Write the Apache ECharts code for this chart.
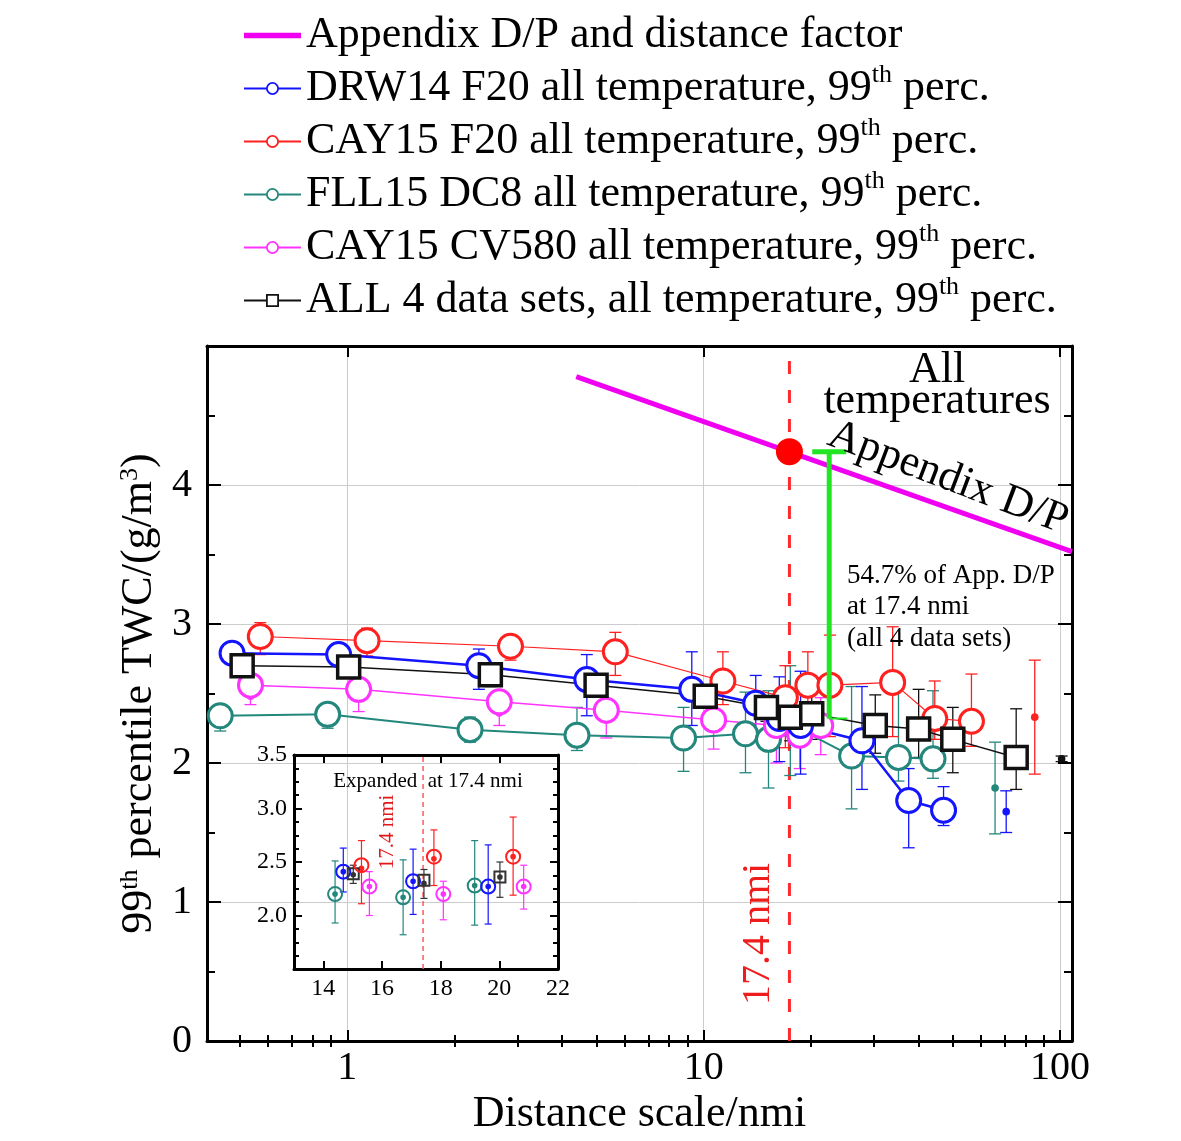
<!DOCTYPE html>
<html><head><meta charset="utf-8">
<script src="https://cdn.jsdelivr.net/npm/echarts@6/dist/echarts.min.js"></script>
<style>html,body{margin:0;padding:0;background:#fff}#c{width:1181px;height:1141px}</style>
</head><body><div id="c"></div>
<script>
const SERIF = '"Liberation Serif", "Times New Roman", serif';

// ---------- names ----------
const nameApp = 'Appendix D/P and distance factor';
const nameDRW = 'DRW14 F20 all temperature, 99th perc.';
const nameCAY = 'CAY15 F20 all temperature, 99th perc.';
const nameFLL = 'FLL15 DC8 all temperature, 99th perc.';
const nameCV = 'CAY15 CV580 all temperature, 99th perc.';
const nameALL = 'ALL 4 data sets, all temperature, 99th perc.';

// ---------- axes ----------
const xMin = 0.404, xMax = 108;
const yMin = 0, yMax = 5;
const minorTicksX = [0.5,0.6,0.7,0.8,0.9,2,3,4,5,6,7,8,9,20,30,40,50,60,70,80,90];
const insetXTicks = [14,16,18,20,22];

// ---------- main data (distance nmi, 99th perc TWC g/m3) ----------
const drwX   = [0.475, 0.946, 2.34, 4.70, 9.26, 14.0, 16.3, 18.7, 27.8, 37.6, 47.1, 70.6];
const drwY   = [2.79, 2.78, 2.70, 2.60, 2.53, 2.43, 2.32, 2.27, 2.16, 1.73, 1.66, null];
const drwDot = [2.77, 2.76, 2.68, 2.57, 2.50, 2.41, 2.32, 2.27, 2.12, 1.74, 1.66, 1.65];
const drwLo  = [2.72, 2.70, 2.53, 2.34, 2.27, 2.22, 2.01, 1.92, 1.81, 1.39, 1.55, 1.50];
const drwHi  = [2.83, 2.83, 2.82, 2.78, 2.80, 2.63, 2.62, 2.66, 2.55, 1.96, 1.83, 1.80];

const cayX   = [0.570, 1.136, 2.87, 5.65, 11.32, 16.95, 19.6, 22.6, 33.9, 44.5, 56.4, 84.9];
const cayY   = [2.91, 2.88, 2.84, 2.80, 2.59, 2.47, 2.56, 2.56, 2.58, 2.32, 2.30, null];
const cayDot = [2.88, 2.86, 2.82, 2.79, 2.57, 2.44, 2.53, 2.56, 2.57, 2.32, 2.30, 2.33];
const cayLo  = [2.78, 2.77, 2.74, 2.63, 2.42, 2.11, 2.28, 2.19, 2.19, 2.17, 2.12, 1.92];
const cayHi  = [3.01, 2.97, 2.92, 2.94, 2.80, 2.70, 2.80, 2.92, 2.98, 2.59, 2.64, 2.74];

const fllX   = [0.440, 0.881, 2.21, 4.41, 8.78, 13.1, 15.2, 17.5, 26.0, 35.2, 44.0, 65.7];
const fllY   = [2.34, 2.35, 2.24, 2.20, 2.18, 2.21, 2.17, 2.28, 2.05, 2.04, 2.03, null];
const fllDot = [2.33, 2.35, 2.24, 2.18, 2.18, 2.22, 2.19, 2.28, 2.05, 2.08, 2.05, 1.82];
const fllLo  = [2.23, 2.25, 2.15, 2.09, 1.94, 1.93, 1.82, 1.91, 1.67, 1.87, 1.89, 1.49];
const fllHi  = [2.41, 2.43, 2.33, 2.40, 2.40, 2.51, 2.52, 2.70, 2.55, 2.53, 2.52, 2.15];

const cvX    = [0.535, 1.076, 2.67, 5.33, 10.66, 16.0, 18.6, 21.3];
const cvY    = [2.56, 2.53, 2.44, 2.38, 2.31, 2.27, 2.20, 2.27];
const cvDot  = [2.48, 2.47, 2.36, 2.31, 2.27, 2.27, 2.20, 2.27];
const cvLo   = [2.42, 2.37, 2.27, 2.18, 2.10, 2.00, 1.96, 2.06];
const cvHi   = [2.61, 2.58, 2.44, 2.44, 2.35, 2.41, 2.32, 2.47];

const allX   = [0.507, 1.009, 2.52, 4.99, 10.1, 15.0, 17.5, 20.1, 30.3, 40.1, 50.0, 75.3, 101];
const allY   = [2.70, 2.69, 2.635, 2.56, 2.48, 2.40, 2.33, 2.355, 2.27, 2.245, 2.17, 2.04, null];
const allDot = [2.66, 2.66, 2.60, 2.53, 2.48, 2.38, 2.33, 2.36, 2.27, 2.25, 2.18, 2.06, 2.03];
const allLo  = [2.62, 2.62, 2.55, 2.48, 2.40, 2.30, 2.16, 2.17, 2.07, 2.04, 1.93, 1.81, 2.01];
const allHi  = [2.75, 2.74, 2.69, 2.62, 2.55, 2.47, 2.43, 2.50, 2.49, 2.53, 2.40, 2.39, 2.05];

// Appendix D/P line end points, reference distance, green bar
const appX = [4.39, 108];
const appY = [4.78, 3.52];
const refDist = 17.4;
const appAtRef = 4.24;
const greenBar = [22.5, 2.32, 4.24]; // x, low, high

// ---------- inset data ----------
const inFllX = [14.40, 16.72, 19.16], inFllY = [2.20, 2.17, 2.28], inFllLo = [1.93, 1.82, 1.91], inFllHi = [2.51, 2.52, 2.70];
const inDrwX = [14.68, 17.06, 19.62], inDrwY = [2.41, 2.32, 2.27], inDrwLo = [2.22, 2.01, 1.92], inDrwHi = [2.63, 2.62, 2.66];
const inAllX = [15.02, 17.43, 20.02], inAllY = [2.39, 2.33, 2.36], inAllDot = [2.38, 2.30, 2.36], inAllLo = [2.30, 2.16, 2.17], inAllHi = [2.47, 2.43, 2.50];
const inCayX = [15.30, 17.77, 20.47], inCayY = [2.47, 2.55, 2.55], inCayDot = [2.44, 2.53, 2.55], inCayLo = [2.11, 2.28, 2.19], inCayHi = [2.70, 2.80, 2.92];
const inCvX  = [15.57, 18.09, 20.83], inCvY = [2.27, 2.20, 2.27], inCvLo = [2.00, 1.96, 2.06], inCvHi = [2.41, 2.32, 2.47];

// ---------- colors ----------
const cBlue = '#1414ff', cRed = '#ff2020', cTeal = '#23877c', cMag = '#ff33ff', cBlack = '#111111', cApp = '#f000f0', cGreen = '#22e622';

// ---------- helpers ----------
function pairs(x, y) { return x.map((v, i) => (y[i] == null ? null : [v, y[i]])).filter(d => d); }
function errRows(x, lo, hi, dot) { return x.map((v, i) => [v, lo[i], hi[i], dot[i]]); }

function errRender(color, cap, lw, dotR) {
  return function (params, api) {
    const x = api.value(0);
    const p0 = api.coord([x, api.value(1)]);
    const p1 = api.coord([x, api.value(2)]);
    const pd = api.coord([x, api.value(3)]);
    const h = cap / 2;
    const st = { stroke: color, lineWidth: lw };
    return { type: 'group', children: [
      { type: 'line', shape: { x1: p0[0], y1: p0[1], x2: p1[0], y2: p1[1] }, style: st },
      { type: 'line', shape: { x1: p1[0] - h, y1: p1[1], x2: p1[0] + h, y2: p1[1] }, style: st },
      { type: 'line', shape: { x1: p0[0] - h, y1: p0[1], x2: p0[0] + h, y2: p0[1] }, style: st },
      { type: 'circle', shape: { cx: pd[0], cy: pd[1], r: dotR }, style: { fill: color } }
    ]};
  };
}

function mainSeries(name, color, lw, symbol, size, bw, x, y, dot, lo, hi) {
  return [
    { type: 'line', name: name, xAxisIndex: 0, yAxisIndex: 0, data: pairs(x, y),
      symbol: symbol, symbolSize: size, showSymbol: true,
      itemStyle: { color: '#fff', borderColor: color, borderWidth: bw, opacity: 1 },
      lineStyle: { color: color, width: lw }, emphasis: { disabled: true }, z: 2 },
    { type: 'custom', name: name + ' err', xAxisIndex: 0, yAxisIndex: 0,
      data: errRows(x, lo, hi, dot), renderItem: errRender(color, 12, 1.3, 3.8),
      encode: { x: 0, y: [1, 2, 3] }, z: 2 }
  ];
}

function insetSeries(name, color, symbol, size, x, y, dot, lo, hi) {
  return [
    { type: 'scatter', name: name + ' inset', xAxisIndex: 4, yAxisIndex: 2, data: pairs(x, y),
      symbol: symbol, symbolSize: size,
      itemStyle: { color: 'rgba(255,255,255,0)', borderColor: color, borderWidth: 2, opacity: 1 }, z: 5 },
    { type: 'custom', name: name + ' inset err', xAxisIndex: 4, yAxisIndex: 2,
      data: errRows(x, lo, hi, dot), renderItem: errRender(color, 7, 1.2, 2.8),
      encode: { x: 0, y: [1, 2, 3] }, z: 5 }
  ];
}

const isPow10 = v => Math.abs(Math.log10(v) - Math.round(Math.log10(v))) < 1e-6;
const frameLine = { show: true, onZero: false, lineStyle: { color: '#000', width: 3 } };
const noLabel = { show: false };

const series = [].concat(
  mainSeries(nameFLL, cTeal, 2, 'circle', 24, 3, fllX, fllY, fllDot, fllLo, fllHi),
  mainSeries(nameCV, cMag, 1.5, 'circle', 24, 3, cvX, cvY, cvDot, cvLo, cvHi),
  mainSeries(nameCAY, cRed, 1.2, 'circle', 24, 3, cayX, cayY, cayDot, cayLo, cayHi),
  mainSeries(nameDRW, cBlue, 2.5, 'circle', 24, 3, drwX, drwY, drwDot, drwLo, drwHi),
  mainSeries(nameALL, cBlack, 1.5, 'rect', 22, 3.5, allX, allY, allDot, allLo, allHi),
  [
    { type: 'line', name: nameApp, xAxisIndex: 0, yAxisIndex: 0, data: pairs(appX, appY),
      symbol: 'none', lineStyle: { color: cApp, width: 5 }, itemStyle: { color: cApp }, z: 3 },
    { type: 'line', name: 'ref line', xAxisIndex: 0, yAxisIndex: 0,
      data: [[refDist, yMin], [refDist, 4.95]], symbol: 'none',
      lineStyle: { color: '#ff2a2a', width: 3, type: [13, 16] }, z: 1 },
    { type: 'scatter', name: 'ref dot', xAxisIndex: 0, yAxisIndex: 0, data: [[refDist, appAtRef]],
      symbol: 'circle', symbolSize: 27, itemStyle: { color: '#ff0000', opacity: 1 }, z: 6 },
    { type: 'custom', name: 'green bar', xAxisIndex: 0, yAxisIndex: 0, data: [greenBar],
      encode: { x: 0, y: [1, 2] }, z: 4,
      renderItem: function (params, api) {
        const x = api.value(0);
        const p0 = api.coord([x, api.value(1)]);
        const p1 = api.coord([x, api.value(2)]);
        return { type: 'group', children: [
          { type: 'line', shape: { x1: p0[0], y1: p0[1], x2: p1[0], y2: p1[1] }, style: { stroke: cGreen, lineWidth: 5 } },
          { type: 'line', shape: { x1: p1[0] - 17, y1: p1[1], x2: p1[0] + 17, y2: p1[1] }, style: { stroke: cGreen, lineWidth: 5 } },
          { type: 'line', shape: { x1: p0[0], y1: p0[1], x2: p0[0] + 18, y2: p0[1] }, style: { stroke: cGreen, lineWidth: 2 } }
        ]};
      } }
  ],
  [
    { type: 'line', name: 'inset ref', xAxisIndex: 4, yAxisIndex: 2,
      data: [[refDist, 1.5], [refDist, 3.5]], symbol: 'none',
      lineStyle: { color: '#ff5a5a', width: 1.5, type: [5, 4] }, z: 4 }
  ],
  insetSeries('fll', cTeal, 'circle', 14, inFllX, inFllY, inFllY, inFllLo, inFllHi),
  insetSeries('drw', cBlue, 'circle', 14, inDrwX, inDrwY, inDrwY, inDrwLo, inDrwHi),
  insetSeries('all', '#333', 'rect', 11, inAllX, inAllY, inAllDot, inAllLo, inAllHi),
  insetSeries('cay', cRed, 'circle', 14, inCayX, inCayY, inCayDot, inCayLo, inCayHi),
  insetSeries('cv', cMag, 'circle', 14, inCvX, inCvY, inCvY, inCvLo, inCvHi)
);

const supRich = { sup: { fontSize: 26, fontFamily: SERIF, color: '#000', verticalAlign: 'top', lineHeight: 34 } };

const option = {
  backgroundColor: '#fff',
  animation: false,
  grid: [
    { left: 207, top: 346, right: 109, bottom: 100, containLabel: false, outerBoundsMode: 'none' },
    { left: 294, top: 755, width: 264, height: 214, containLabel: false, outerBoundsMode: 'none' }
  ],
  legend: {
    orient: 'vertical', left: 243, top: 9, itemGap: 0, itemWidth: 57, itemHeight: 14,
    padding: 0, selectedMode: false,
    itemStyle: { borderWidth: 1.8 },
    data: [
      { name: nameApp, icon: 'path://M0,0L60,0L60,6L0,6Z' },
      nameDRW, nameCAY, nameFLL, nameCV, nameALL
    ],
    formatter: n => n.replace('99th', '99{sup|th}'),
    textStyle: { fontSize: 44, fontFamily: SERIF, color: '#000', lineHeight: 53, rich: supRich }
  },
  xAxis: [
    { gridIndex: 0, type: 'log', min: xMin, max: xMax, position: 'bottom', axisLine: frameLine,
      axisTick: { show: true, inside: true, length: 11, lineStyle: { color: '#000', width: 2 } },
      axisLabel: { show: true, margin: 7, fontSize: 40, fontFamily: SERIF, color: '#000',
        formatter: v => (isPow10(v) ? String(Math.round(v)) : '') },
      splitLine: { show: true, lineStyle: { color: '#cccccc', width: 1 } },
      name: 'Distance scale/nmi', nameLocation: 'middle', nameGap: 47,
      nameTextStyle: { fontSize: 44, fontFamily: SERIF, color: '#000' } },
    { gridIndex: 0, type: 'log', min: xMin, max: xMax, position: 'bottom', axisLine: { show: false },
      axisTick: { show: true, inside: true, length: 6, customValues: minorTicksX, lineStyle: { color: '#000', width: 2 } },
      axisLabel: noLabel, splitLine: { show: false } },
    { gridIndex: 0, type: 'log', min: xMin, max: xMax, position: 'top', axisLine: frameLine,
      axisTick: { show: true, inside: true, length: 11, lineStyle: { color: '#000', width: 2 } },
      axisLabel: noLabel, splitLine: { show: false } },
    { gridIndex: 0, type: 'log', min: xMin, max: xMax, position: 'top', axisLine: { show: false },
      axisTick: { show: true, inside: true, length: 6, customValues: minorTicksX, lineStyle: { color: '#000', width: 2 } },
      axisLabel: noLabel, splitLine: { show: false } },
    { gridIndex: 1, type: 'value', min: 13, max: 22, position: 'bottom', axisLine: frameLine,
      axisTick: { show: true, inside: true, length: 8, customValues: insetXTicks, lineStyle: { color: '#000', width: 2 } },
      axisLabel: { show: true, margin: 8, fontSize: 24, fontFamily: SERIF, color: '#000', customValues: insetXTicks },
      splitLine: { show: false } },
    { gridIndex: 1, type: 'value', min: 13, max: 22, position: 'top', axisLine: frameLine,
      axisTick: { show: true, inside: true, length: 8, customValues: insetXTicks, lineStyle: { color: '#000', width: 2 } },
      axisLabel: noLabel, splitLine: { show: false } }
  ],
  yAxis: [
    { gridIndex: 0, type: 'value', min: yMin, max: yMax, interval: 1, position: 'left', axisLine: frameLine,
      axisTick: { show: true, inside: true, length: 14, lineStyle: { color: '#000', width: 2 } },
      minorTick: { show: true, splitNumber: 2, length: 8, lineStyle: { color: '#000', width: 2 } },
      axisLabel: { margin: 15, fontSize: 40, fontFamily: SERIF, color: '#000', formatter: v => (v >= 5 ? '' : String(v)) },
      splitLine: { show: true, lineStyle: { color: '#cccccc', width: 1 } },
      name: '99{sup|th} percentile TWC/(g/m{sup|3})', nameLocation: 'middle', nameGap: 46,
      nameTextStyle: { fontSize: 44, fontFamily: SERIF, color: '#000', rich: supRich } },
    { gridIndex: 0, type: 'value', min: yMin, max: yMax, interval: 1, position: 'right', axisLine: frameLine,
      axisTick: { show: true, inside: true, length: 14, lineStyle: { color: '#000', width: 2 } },
      minorTick: { show: true, splitNumber: 2, length: 8, lineStyle: { color: '#000', width: 2 } },
      axisLabel: noLabel, splitLine: { show: false } },
    { gridIndex: 1, type: 'value', min: 1.5, max: 3.5, interval: 0.5, position: 'left', axisLine: frameLine,
      axisTick: { show: true, inside: true, length: 8, lineStyle: { color: '#000', width: 2 } },
      minorTick: { show: true, splitNumber: 4, length: 5, lineStyle: { color: '#000', width: 2 } },
      axisLabel: { margin: 7, fontSize: 24, fontFamily: SERIF, color: '#000', formatter: v => (v < 1.75 ? '' : v.toFixed(1)) },
      splitLine: { show: false } },
    { gridIndex: 1, type: 'value', min: 1.5, max: 3.5, interval: 0.5, position: 'right', axisLine: frameLine,
      axisTick: { show: true, inside: true, length: 8, lineStyle: { color: '#000', width: 2 } },
      minorTick: { show: true, splitNumber: 4, length: 5, lineStyle: { color: '#000', width: 2 } },
      axisLabel: noLabel, splitLine: { show: false } }
  ],
  graphic: [
    { type: 'text', x: 937, y: 370, z: 10, style: { text: 'All', font: '44px ' + SERIF, fill: '#000', align: 'center', verticalAlign: 'middle' } },
    { type: 'text', x: 937, y: 401, z: 10, style: { text: 'temperatures', font: '44px ' + SERIF, fill: '#000', align: 'center', verticalAlign: 'middle' } },
    { type: 'text', x: 948, y: 478, rotation: -0.363, z: 10, style: { text: 'Appendix D/P', font: '44px ' + SERIF, fill: '#000', align: 'center', verticalAlign: 'middle' } },
    { type: 'text', x: 847, y: 576, z: 10, style: { text: '54.7% of App. D/P', font: '27px ' + SERIF, fill: '#000', align: 'left', verticalAlign: 'middle' } },
    { type: 'text', x: 847, y: 607, z: 10, style: { text: 'at 17.4 nmi', font: '27px ' + SERIF, fill: '#000', align: 'left', verticalAlign: 'middle' } },
    { type: 'text', x: 847, y: 639, z: 10, style: { text: '(all 4 data sets)', font: '27px ' + SERIF, fill: '#000', align: 'left', verticalAlign: 'middle' } },
    { type: 'text', x: 758, y: 934, rotation: Math.PI / 2, z: 10, style: { text: '17.4 nmi', font: '40px ' + SERIF, fill: '#ee1c1c', align: 'center', verticalAlign: 'middle' } },
    { type: 'text', x: 428, y: 781, z: 10, style: { text: 'Expanded  at 17.4 nmi', font: '21px ' + SERIF, fill: '#000', align: 'center', verticalAlign: 'middle' } },
    { type: 'text', x: 387, y: 832, rotation: Math.PI / 2, z: 10, style: { text: '17.4 nmi', font: '21px ' + SERIF, fill: '#e01818', align: 'center', verticalAlign: 'middle' } }
  ],
  series: series
};

const chart = echarts.init(document.getElementById('c'));
chart.setOption(option);
</script>
</body></html>
